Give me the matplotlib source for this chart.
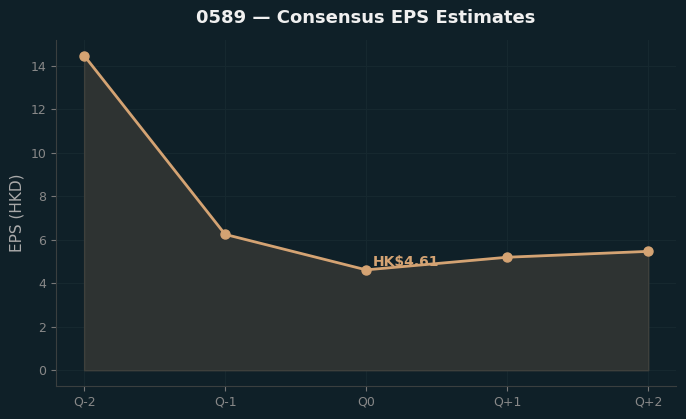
import matplotlib
matplotlib.use("Agg")
import matplotlib.pyplot as plt

quarters = ["Q-2", "Q-1", "Q0", "Q+1", "Q+2"]
eps = [14.46, 6.24, 4.61, 5.19, 5.46]
current_label = "HK$4.61"

bg = "#0f2028"
line_c = "#d4a373"

fig, ax = plt.subplots(figsize=(6.86, 4.19), dpi=100)
fig.patch.set_facecolor(bg)
ax.set_facecolor(bg)
ax.set_axisbelow(True)

x = list(range(len(quarters)))
ax.fill_between(x, eps, 0, color="#2e3332", edgecolor="#3e403c", linewidth=1, zorder=2)
ax.plot(x, eps, color=line_c, linewidth=2, marker="o", markersize=6.5, zorder=3)
ax.annotate(current_label, (2, eps[2]), xytext=(5, 3), textcoords="offset points",
            color=line_c, fontsize=10, fontweight="bold", zorder=4)

ax.set_xticks(x)
ax.set_xticklabels(quarters)
ax.set_yticks([0, 2, 4, 6, 8, 10, 12, 14])
ax.set_ylabel("EPS (HKD)", color="#aaaaaa", fontsize=11)
ax.set_title("0589 — Consensus EPS Estimates", color="#f0f0f0", fontsize=13,
             fontweight="bold", pad=12)
ax.tick_params(colors="#888888", labelsize=9)
ax.tick_params(axis="both", color="#777777")
ax.grid(True, color="#16282f", linewidth=0.8)
for s in ["top", "right"]:
    ax.spines[s].set_visible(False)
for s in ["left", "bottom"]:
    ax.spines[s].set_color("#3a3f3f")

fig.subplots_adjust(left=0.0815, right=0.986, top=0.905, bottom=0.079)
fig.savefig("out.png", dpi=100, facecolor=bg)
